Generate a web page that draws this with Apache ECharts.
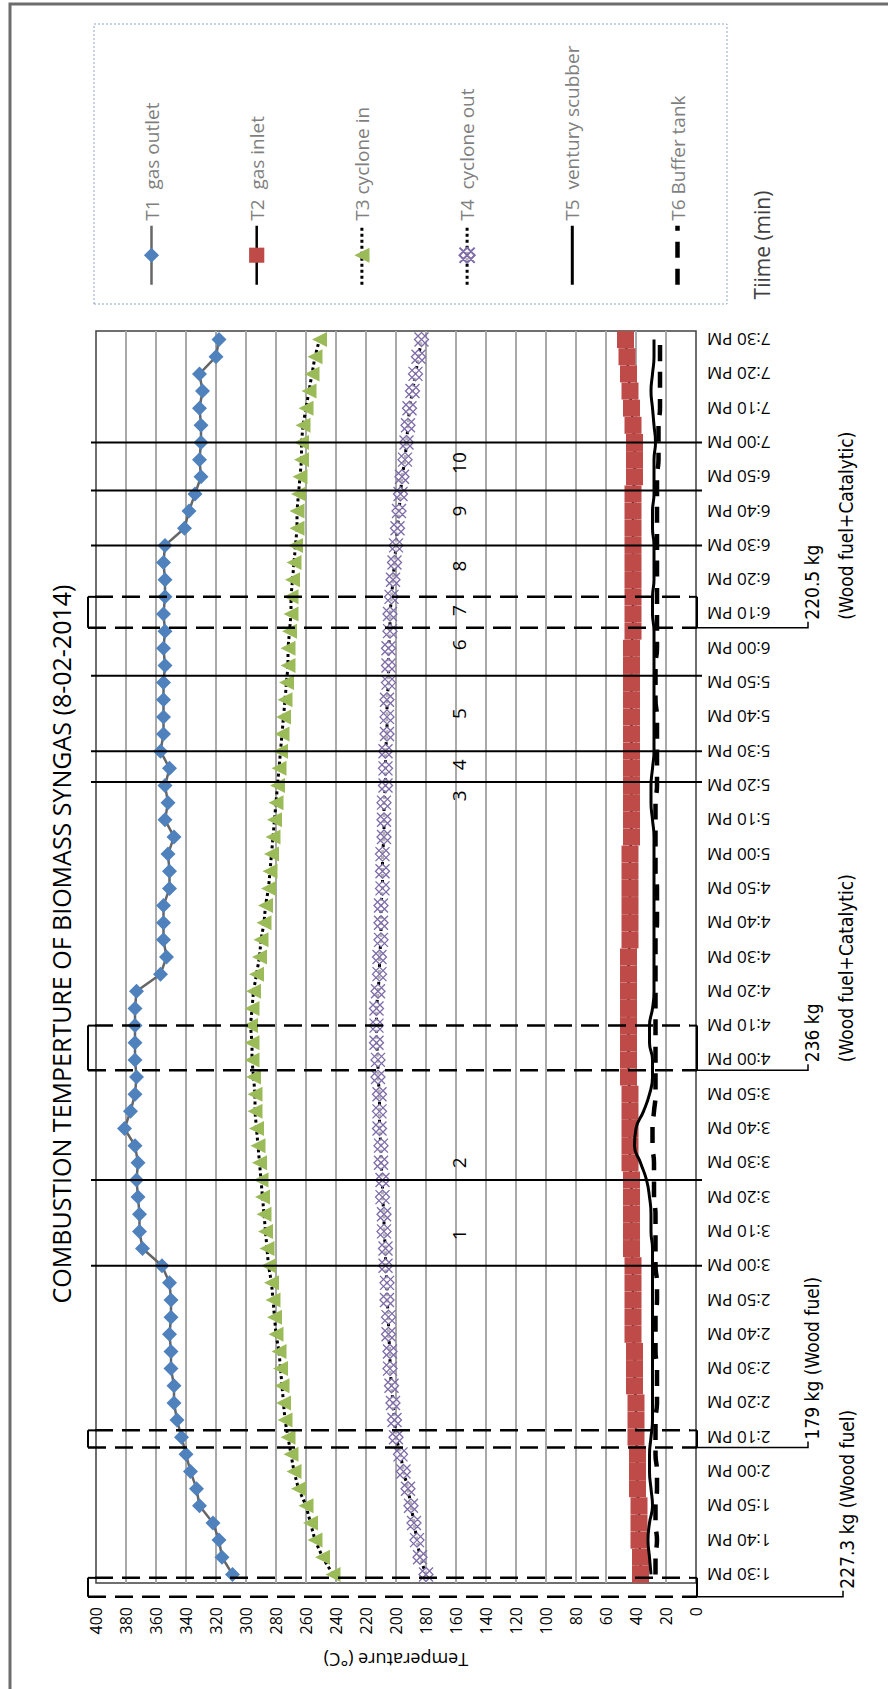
<!DOCTYPE html>
<html>
<head>
<meta charset="utf-8">
<script src="https://cdn.jsdelivr.net/npm/echarts@6/dist/echarts.min.js"></script>
<style>
html,body{margin:0;padding:0;width:888px;height:1689px;overflow:hidden;background:#fff;}
#chart{position:absolute;left:0;top:0;width:1689px;height:888px;transform-origin:0 0;transform:translate(0,1689px) rotate(-90deg);}
</style>
</head>
<body>
<div id="chart"></div>
<script>
// ---------------- data ----------------
const times = [
 '1:30 PM','1:35 PM','1:40 PM','1:45 PM','1:50 PM','1:55 PM',
 '2:00 PM','2:05 PM','2:10 PM','2:15 PM','2:20 PM','2:25 PM','2:30 PM','2:35 PM','2:40 PM','2:45 PM','2:50 PM','2:55 PM',
 '3:00 PM','3:05 PM','3:10 PM','3:15 PM','3:20 PM','3:25 PM','3:30 PM','3:35 PM','3:40 PM','3:45 PM','3:50 PM','3:55 PM',
 '4:00 PM','4:05 PM','4:10 PM','4:15 PM','4:20 PM','4:25 PM','4:30 PM','4:35 PM','4:40 PM','4:45 PM','4:50 PM','4:55 PM',
 '5:00 PM','5:05 PM','5:10 PM','5:15 PM','5:20 PM','5:25 PM','5:30 PM','5:35 PM','5:40 PM','5:45 PM','5:50 PM','5:55 PM',
 '6:00 PM','6:05 PM','6:10 PM','6:15 PM','6:20 PM','6:25 PM','6:30 PM','6:35 PM','6:40 PM','6:45 PM','6:50 PM','6:55 PM',
 '7:00 PM','7:05 PM','7:10 PM','7:15 PM','7:20 PM','7:25 PM','7:30 PM'
];
const seriesNames = ['T1\u00a0\u00a0gas outlet','T2\u00a0\u00a0gas inlet','T3\u00a0cyclone in','T4\u00a0\u00a0cyclone out','T5\u00a0\u00a0ventury scubber','T6 Buffer tank'];
const t1 = [309,316,318,322,331,333,337,340,343,346,348,348,
            350,350,351,350,350,351,356,369,371,371,372,373,
            372,374,381,377,374,373,374,374,374,374,373,357,
            353,355,355,355,351,351,352,348,354,352,354,351,
            357,355,355,355,355,354,355,354,355,354,354,355,
            354,341,338,334,330,331,330,330,331,329,331,320,
            318];
const t2 = [37,37,38,38,38,39,39,39,40,40,40,41,
            41,41,42,42,42,42,42,43,43,43,43,43,
            44,44,44,44,44,45,45,45,45,45,45,45,
            45,44,44,44,44,44,44,43,43,43,43,43,
            43,43,43,43,43,43,43,42,42,42,42,42,
            42,42,42,42,41,41,41,42,43,44,45,46,
            47];
const t3 = [242,249,254,257,260,265,268,270,272,274,275,276,
            277,278,280,281,282,283,285,286,287,288,289,290,
            291,292,293,294,294,295,296,296,297,296,295,293,
            291,290,288,287,285,284,283,282,281,280,279,278,
            277,276,275,274,273,272,272,271,270,270,269,268,
            267,266,266,265,264,263,263,262,260,258,256,254,
            251];
const t4 = [180,184,186,188,190,192,195,197,200,201,202,203,
            204,204,205,205,206,206,207,207,208,208,209,209,
            210,210,211,211,211,212,212,213,213,213,212,211,
            211,210,210,210,209,209,209,208,208,208,207,207,
            207,206,206,206,205,205,205,204,204,203,202,201,
            200,199,198,197,196,194,193,192,191,189,187,185,
            183];
const t5 = [30,31,32,31,29,30,31,31,30,29,29,29,
            29,29,29,29,29,29,29,29,30,30,31,33,
            37,41,40,35,31,29,29,31,31,29,28,28,
            28,28,28,28,28,28,28,28,29,30,30,29,
            28,28,28,28,28,28,28,28,29,29,28,28,
            28,29,29,28,28,28,27,28,29,30,29,28,
            28];
const t6 = [27,27,26,27,27,26,26,27,27,27,26,26,
            26,27,27,27,26,26,27,27,27,27,28,28,
            28,29,29,28,27,27,27,27,27,27,27,27,
            27,27,26,26,26,27,27,27,27,27,26,26,
            26,26,26,27,27,27,26,26,26,26,26,26,
            26,26,26,26,26,25,25,25,24,24,24,24,
            24];
// temperature axis
const tempMin = 0, tempMax = 400, tempStep = 20;
// annotations (minutes after 1:30 PM)
const periodLineTimes = [90, 115, 231, 240, 262, 300, 316, 330];
const periodLabels = ['1','2','3','4','5','6','7','8','9','10'];
const periodLabelTimes = [99, 120, 227, 236, 251, 271, 281, 294, 310, 324];
const periodLabelTemp = 158;
const loadStart = [-6.5, 37, 147, 276];
const loadEnd = [-1, 42, 160, 285];
const loadText1 = ['227.3 kg (Wood fuel)', '179 kg (Wood fuel)', '236 kg', '220.5 kg'];
const loadText2 = ['', '', '(Wood fuel+Catalytic)', '(Wood fuel+Catalytic)'];
const loadRow = [2, 1, 1, 1];
const titleText = 'COMBUSTION TEMPERTURE OF BIOMASS SYNGAS (8-02-2014)';
const xName = 'Tiime (min)';
const yName = 'Temperature (\u00b0C)';

// ---------------- chart ----------------
const chart = echarts.init(document.getElementById('chart'), null, {renderer: 'svg', width: 1689, height: 888});
const FONT = "'Open Sans', 'Noto Sans', sans-serif";
const NARROW = "'Liberation Sans Narrow', 'DejaVu Sans Condensed', Roboto, sans-serif";
const minutesMin = -2.5, minutesMax = 362.5;

const xPath = 'path://M1,5L5,1L9,5L5,9Z M1,1L9,9 M9,1L1,9';

const option = {
  animation: false,
  backgroundColor: '#fff',
  grid: {left: 106, right: 331, top: 96, bottom: 192, show: true, borderColor: '#404040', borderWidth: 1.5, backgroundColor: 'transparent'},
  legend: {
    orient: 'vertical', left: 1397, top: 137, itemWidth: 59, itemHeight: 19, itemGap: 86.2,
    selectedMode: false, data: seriesNames,
    lineStyle: {width: 'inherit'},
    textStyle: {fontSize: 19, color: '#7f7f7f', fontFamily: FONT}
  },
  xAxis: [
    {type: 'category', data: times, boundaryGap: true,
     axisLine: {show: false}, axisTick: {show: false}, splitLine: {show: false},
     axisLabel: {interval: 1, rotate: 90, margin: 11, fontSize: 17, color: '#000', fontFamily: FONT}},
    {type: 'value', min: minutesMin, max: minutesMax, show: false, gridIndex: 0}
  ],
  yAxis: {
    type: 'value', min: tempMin, max: tempMax, interval: tempStep,
    axisLine: {show: false}, axisTick: {show: false},
    splitLine: {show: true, showMinLine: false, showMaxLine: false, lineStyle: {color: '#a9a9a9', width: 2}},
    axisLabel: {margin: 24, fontSize: 16, color: '#000', fontFamily: FONT},
    name: yName, nameLocation: 'middle', nameGap: 68, nameRotate: 90,
    nameTextStyle: {fontSize: 18, color: '#000', fontFamily: FONT}
  },
  graphic: [
    {type: 'rect', shape: {x: -10, y: 10, width: 1695, height: 900}, style: {fill: 'none', stroke: '#6d6d6d', lineWidth: 3}, silent: true},
    {type: 'rect', shape: {x: 1385, y: 94, width: 280, height: 633}, style: {fill: 'none', stroke: '#8ea3c4', lineWidth: 1, lineDash: [2, 2]}, silent: true},
    {type: 'text', x: 745, y: 61, style: {text: titleText, align: 'center', verticalAlign: 'middle', fontSize: 25, fontFamily: FONT, fill: '#000'}, silent: true},
    {type: 'text', x: 1444, y: 762, style: {text: xName, align: 'center', verticalAlign: 'middle', fontSize: 21, fontFamily: FONT, fill: '#404040'}, silent: true}
  ],
  series: [
    {name: seriesNames[0], type: 'line', data: t1, symbol: 'diamond', symbolSize: 15, showAllSymbol: true,
     itemStyle: {color: '#4f81bd'}, lineStyle: {color: '#666', width: 2.5}, z: 3},
    {name: seriesNames[1], type: 'line', data: t2, symbol: 'rect', symbolSize: 17, showAllSymbol: true,
     itemStyle: {color: '#be4b48'}, lineStyle: {color: '#000', width: 2.5}, z: 3},
    {name: seriesNames[2], type: 'line', data: t3, symbol: 'triangle', symbolSize: 15, showAllSymbol: true,
     itemStyle: {color: '#9bbb59'}, lineStyle: {color: '#000', width: 3, type: 'dotted'}, z: 3},
    {name: seriesNames[3], type: 'line', data: t4, symbol: xPath, symbolSize: 14, showAllSymbol: true,
     itemStyle: {color: 'rgba(255,255,255,0.7)', borderColor: '#7e6ba8', borderWidth: 1.3}, lineStyle: {color: '#000', width: 3, type: 'dotted'}, z: 3},
    {name: seriesNames[4], type: 'line', data: t5, showSymbol: false, symbol: 'none', smooth: 0.5,
     itemStyle: {color: 'rgba(0,0,0,0)'}, lineStyle: {color: '#000', width: 3}, z: 4},
    {name: seriesNames[5], type: 'line', data: t6, showSymbol: false, symbol: 'none', smooth: 0.5,
     itemStyle: {color: 'rgba(0,0,0,0)'}, lineStyle: {color: '#000', width: 4.5, type: [16, 11]}, z: 4},
    // solid period lines
    {type: 'custom', xAxisIndex: 1, yAxisIndex: 0, silent: true, z: 5,
     data: periodLineTimes.map(t => [t, tempMin]),
     renderItem: function (params, api) {
       const a = api.coord([api.value(0), tempMax]);
       const b = api.coord([api.value(0), tempMin]);
       return {type: 'line', shape: {x1: a[0], y1: a[1] - 5, x2: b[0], y2: b[1] + 6}, style: {stroke: '#000', lineWidth: 2}};
     }},
    // period numbers
    {type: 'custom', xAxisIndex: 1, yAxisIndex: 0, silent: true, z: 6,
     data: periodLabelTimes.map(t => [t, periodLabelTemp]),
     renderItem: function (params, api) {
       const p = api.coord([api.value(0), api.value(1)]);
       return {type: 'text', x: p[0], y: p[1], style: {text: periodLabels[params.dataIndex], align: 'center', verticalAlign: 'middle', fontSize: 19, fontFamily: FONT, fill: '#000'}};
     }},
    // fuel load brackets
    {type: 'custom', xAxisIndex: 1, yAxisIndex: 0, silent: true, z: 6,
     data: loadStart.map((t, i) => [t, loadEnd[i]]),
     renderItem: function (params, api) {
       const i = params.dataIndex;
       const a0 = api.coord([api.value(0), tempMax]);
       const a1 = api.coord([api.value(0), tempMin]);
       const b0 = api.coord([api.value(1), tempMax]);
       const b1 = api.coord([api.value(1), tempMin]);
       const dash = {stroke: '#000', lineWidth: 2.5, lineDash: [18, 9]};
       const solid = {stroke: '#000', lineWidth: 2};
       const topY = a0[1] - 8, botY = a1[1] + 1;
       const leadY = botY + (loadRow[i] === 2 ? 146 : 111);
       const children = [
         {type: 'line', shape: {x1: a0[0], y1: topY, x2: a1[0], y2: botY}, style: dash},
         {type: 'line', shape: {x1: b0[0], y1: b0[1] - 1, x2: b1[0], y2: b1[1] - 6}, style: dash},
         {type: 'line', shape: {x1: a0[0], y1: topY, x2: b0[0], y2: topY}, style: solid},
         {type: 'line', shape: {x1: b0[0], y1: topY, x2: b0[0], y2: b0[1] - 1}, style: solid},
         {type: 'line', shape: {x1: a1[0], y1: botY, x2: b1[0], y2: botY}, style: solid},
         {type: 'line', shape: {x1: b1[0], y1: botY, x2: b1[0], y2: b1[1] - 6}, style: solid},
         {type: 'polyline', shape: {points: [[a1[0], botY], [a1[0], leadY], [a1[0] + 6, leadY]]}, style: {stroke: '#000', lineWidth: 1.5, fill: 'none'}},
         {type: 'text', x: a1[0] + 8, y: leadY + 4, style: {text: loadText1[i], align: 'left', verticalAlign: 'middle', fontSize: 19, fontFamily: NARROW, fill: '#000'}}
       ];
       if (loadText2[i]) {
         children.push({type: 'text', x: a1[0] + 8, y: leadY + 38, style: {text: loadText2[i], align: 'left', verticalAlign: 'middle', fontSize: 19, fontFamily: NARROW, fill: '#000'}});
       }
       return {type: 'group', children: children};
     }}
  ]
};
chart.setOption(option);
</script>
</body>
</html>
